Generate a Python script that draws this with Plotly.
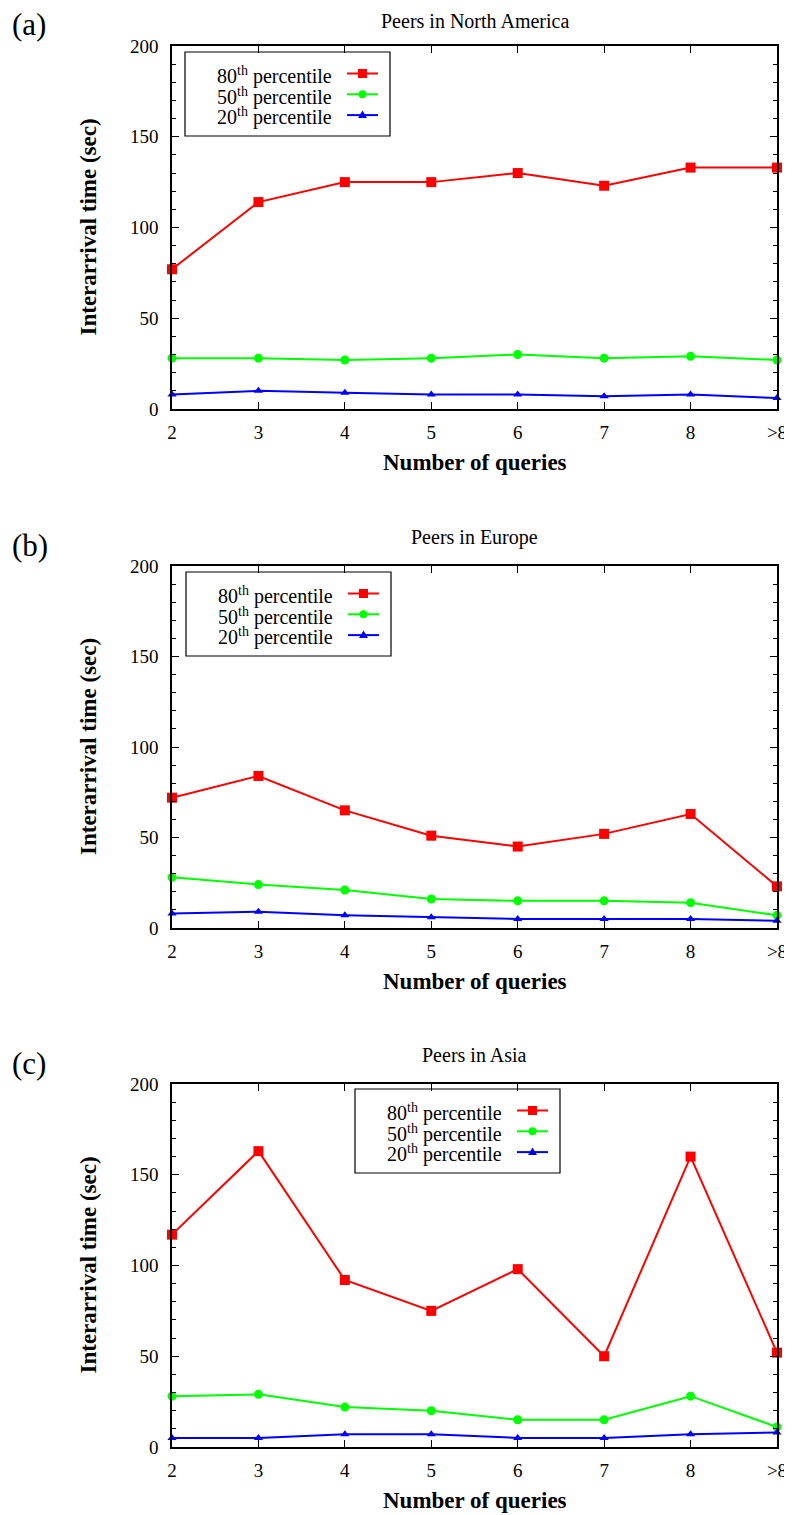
import plotly.graph_objects as go

# ---------------- data ----------------
categories = ["2", "3", "4", "5", "6", "7", "8", ">8"]
panel_titles = ["Peers in North America", "Peers in Europe", "Peers in Asia"]
panel_labels = ["(a)", "(b)", "(c)"]
series_names = ["80<sup>th</sup> percentile", "50<sup>th</sup> percentile", "20<sup>th</sup> percentile"]

na_p80 = [77, 114, 125, 125, 130, 123, 133, 133]
na_p50 = [28, 28, 27, 28, 30, 28, 29, 27]
na_p20 = [8, 10, 9, 8, 8, 7, 8, 6]

eu_p80 = [72, 84, 65, 51, 45, 52, 63, 23]
eu_p50 = [28, 24, 21, 16, 15, 15, 14, 7]
eu_p20 = [8, 9, 7, 6, 5, 5, 5, 4]

as_p80 = [117, 163, 92, 75, 98, 50, 160, 52]
as_p50 = [28, 29, 22, 20, 15, 15, 28, 11]
as_p20 = [5, 5, 7, 7, 5, 5, 7, 8]

panels = [
    [na_p80, na_p50, na_p20],
    [eu_p80, eu_p50, eu_p20],
    [as_p80, as_p50, as_p20],
]

# ---------------- styles ----------------
OFF = 8                      # page body margin
W, H = 792 - OFF, 1515 - OFF  # figure size
colors = ["#ff0000", "#00ff00", "#0000ff"]
symbols = ["square", "circle", "triangle-up"]
msizes = [10, 9, 8]
SERIF = "Liberation Serif, Times New Roman, serif"

def fx(px):
    return (px - OFF) / W

def fy(py):
    return 1 - (py - OFF) / H

x_left, x_right = 172, 777
plot_tops = [46, 566, 1084]
plot_bots = [409, 928, 1447]
legend_dx = [0, 1, 170]
legend_dy = [0, 520, 1037]

fig = go.Figure()
annotations = []
shapes = []

for i in range(3):
    ax = "" if i == 0 else str(i + 1)
    xname, yname = "x" + ax, "y" + ax
    for s in range(3):
        fig.add_trace(go.Scatter(
            x=categories, y=panels[i][s], mode="lines+markers",
            name=series_names[s], showlegend=False,
            xaxis=xname, yaxis=yname, cliponaxis=False,
            line=dict(color=colors[s], width=2),
            marker=dict(symbol=symbols[s], size=msizes[s], color=colors[s]),
        ))
    top, bot = plot_tops[i], plot_bots[i]
    common = dict(showline=True, linecolor="black", linewidth=1.5, mirror="ticks",
                  ticks="inside", tickcolor="black", tickwidth=1, showgrid=False,
                  zeroline=False, tickfont=dict(family=SERIF, size=19, color="black"),
                  automargin=False)
    fig.update_layout(**{
        "xaxis" + ax: dict(domain=[fx(x_left), fx(x_right)], anchor=yname,
                           type="category", categoryorder="array", categoryarray=categories,
                           range=[0, 7], ticklen=7, ticklabelstandoff=5, **common),
        "yaxis" + ax: dict(domain=[fy(bot), fy(top)], anchor=xname,
                           range=[0, 200], dtick=50, ticklen=7, ticklabelstandoff=8,
                           minor=dict(dtick=10, ticks="inside", ticklen=4,
                                      tickcolor="black", tickwidth=1),
                           **common),
    })
    cx = (x_left + x_right) / 2
    # panel title (the first one is kept inside the page's top edge)
    if i == 0:
        annotations.append(dict(text=panel_titles[i], x=fx(cx), y=fy(OFF), xref="paper",
                                yref="paper", showarrow=False, xanchor="center", yanchor="top",
                                font=dict(family=SERIF, size=20, color="black")))
    else:
        annotations.append(dict(text=panel_titles[i], x=fx(cx), y=fy(top - 29), xref="paper",
                                yref="paper", showarrow=False, xanchor="center", yanchor="middle",
                                font=dict(family=SERIF, size=20, color="black")))
    # panel label
    annotations.append(dict(text=panel_labels[i], x=fx(10), y=fy(top - 21), xref="paper",
                            yref="paper", showarrow=False, xanchor="left", yanchor="middle",
                            font=dict(family=SERIF, size=31, color="black")))
    # axis titles
    annotations.append(dict(text="<b>Number of queries</b>", x=fx(cx), y=fy(bot + 53),
                            xref="paper", yref="paper", showarrow=False, xanchor="center",
                            yanchor="middle", font=dict(family=SERIF, size=23, color="black")))
    annotations.append(dict(text="<b>Interarrival time (sec)</b>", x=fx(88),
                            y=fy((top + bot) / 2), xref="paper", yref="paper", showarrow=False,
                            textangle=-90, xanchor="center", yanchor="middle",
                            font=dict(family=SERIF, size=23, color="black")))
    # legend box, texts and samples
    dx, dy = legend_dx[i], legend_dy[i]
    shapes.append(dict(type="rect", xref="paper", yref="paper",
                       x0=fx(185 + dx), x1=fx(390 + dx), y0=fy(52 + dy), y1=fy(136 + dy),
                       line=dict(color="black", width=1.2), fillcolor="white", layer="below"))
    for s in range(3):
        ty = 75.5 + 20.7 * s + dy
        annotations.append(dict(text=series_names[s], x=fx(334 + dx), y=fy(ty),
                                xref="paper", yref="paper", showarrow=False, xanchor="right",
                                yanchor="middle", font=dict(family=SERIF, size=20, color="black")))
        sy = 73.5 + 20.8 * s + dy
        lx0, lx1 = 347 + dx, 378 + dx
        mx = (lx0 + lx1) / 2
        shapes.append(dict(type="line", xref="paper", yref="paper",
                           x0=fx(lx0), x1=fx(lx1), y0=fy(sy), y1=fy(sy),
                           line=dict(color=colors[s], width=2)))
        if symbols[s] == "square":
            shapes.append(dict(type="rect", xref="paper", yref="paper",
                               x0=fx(mx - 4.5), x1=fx(mx + 4.5), y0=fy(sy + 4.5), y1=fy(sy - 4.5),
                               line=dict(width=0), fillcolor=colors[s]))
        elif symbols[s] == "circle":
            shapes.append(dict(type="circle", xref="paper", yref="paper",
                               x0=fx(mx - 4), x1=fx(mx + 4), y0=fy(sy + 4), y1=fy(sy - 4),
                               line=dict(width=0), fillcolor=colors[s]))
        else:
            path = "M {:.5f},{:.5f} L {:.5f},{:.5f} L {:.5f},{:.5f} Z".format(
                fx(mx - 4.5), fy(sy + 3), fx(mx + 4.5), fy(sy + 3), fx(mx), fy(sy - 4.5))
            shapes.append(dict(type="path", xref="paper", yref="paper", path=path,
                               line=dict(width=0), fillcolor=colors[s]))

fig.update_layout(width=W, height=H, margin=dict(l=0, r=0, t=0, b=0),
                  font=dict(family=SERIF, color="black"), showlegend=False,
                  paper_bgcolor="white", plot_bgcolor="white",
                  annotations=annotations, shapes=shapes)

fig.write_html("out.html")
